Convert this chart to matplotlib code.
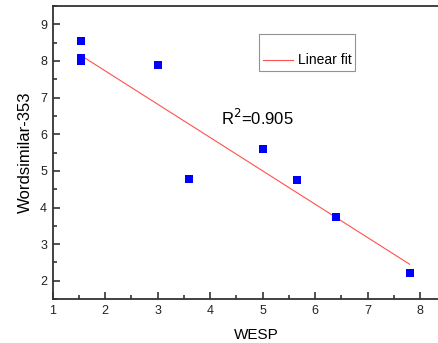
import numpy as np
from matplotlib import pyplot as plt
from matplotlib.lines import Line2D

plt.rcParams['font.family'] = ['Liberation Sans', 'DejaVu Sans']

# data
wesp = [1.54, 1.54, 1.54, 3.0, 3.6, 5.0, 5.65, 6.4, 7.8]
wordsim = [8.54, 8.07, 8.0, 7.88, 4.77, 5.59, 4.75, 3.73, 2.21]
fit_slope = -0.910
fit_intercept = 9.55
fit_x = [1.55, 7.8]
r2_text = "R$^2$=0.905"

fig = plt.figure(figsize=(4.39, 3.43), dpi=100)
ax = fig.add_axes([0.120, 0.128, 0.880, 0.8545])

ax.scatter(wesp, wordsim, marker='s', s=26, color='#0000ff', zorder=3, linewidths=0)
fx = np.array(fit_x)
fit_line, = ax.plot(fx, fit_slope * fx + fit_intercept, color='#ff5050', lw=0.8)

ax.set_xlim(1, 8.36)
ax.set_ylim(1.5, 9.5)
ax.set_xticks(range(1, 9))
ax.set_yticks(range(2, 10))
ax.set_xticks(np.arange(1.5, 8.5, 1), minor=True)
ax.set_yticks(np.arange(1.5, 9.6, 1), minor=True)
ax.tick_params(which='major', direction='in', length=5, width=1.1, labelsize=9,
               top=False, right=False, pad=4, colors='#222222')
ax.tick_params(which='minor', direction='in', length=3, width=1.1,
               top=False, right=False, colors='#222222')
for side in ['left', 'bottom', 'top']:
    ax.spines[side].set_linewidth(1.3)
    ax.spines[side].set_color('#333333')
ax.spines['right'].set_visible(False)

ax.set_xlabel('WESP', fontsize=11)
ax.xaxis.set_label_coords(0.527, -0.097)
ax.set_ylabel('Wordsimilar-353', fontsize=12)
ax.yaxis.set_label_coords(-0.05, 0.5)

ax.text(4.9, 6.45, r2_text, fontsize=12, ha='center', va='center')

blank = Line2D([], [], linestyle='none')
leg = ax.legend([blank, fit_line], [' ', 'Linear fit'], loc='upper left',
                bbox_to_anchor=(0.535, 0.905), fancybox=False, fontsize=10,
                handlelength=2.2, handletextpad=0.3, borderpad=0.25,
                labelspacing=0.15, borderaxespad=0)
leg.get_frame().set_edgecolor('#777777')
leg.get_frame().set_linewidth(0.8)

fig.savefig('out.png', dpi=100)
